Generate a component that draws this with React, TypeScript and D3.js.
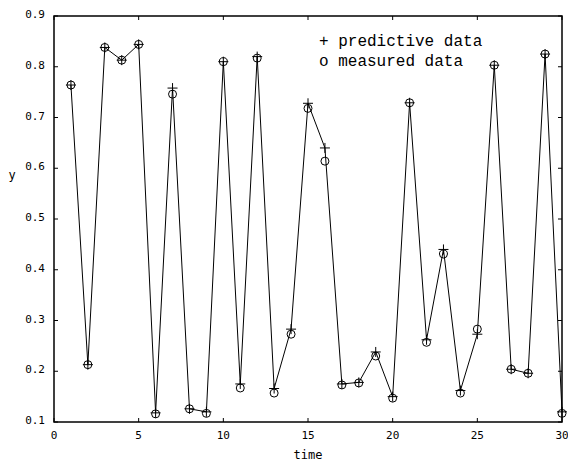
import * as d3 from "d3";

const time = d3.range(1, 31);
const measured = [
  0.764, 0.213, 0.838, 0.813, 0.844, 0.116, 0.746, 0.126, 0.117, 0.81,
  0.167, 0.817, 0.157, 0.273, 0.718, 0.614, 0.173, 0.177, 0.23, 0.147,
  0.729, 0.257, 0.431, 0.157, 0.283, 0.803, 0.204, 0.196, 0.825, 0.117,
];
const predicted = [
  0.764, 0.213, 0.838, 0.813, 0.844, 0.118, 0.758, 0.126, 0.12, 0.81,
  0.175, 0.82, 0.166, 0.283, 0.728, 0.64, 0.175, 0.178, 0.238, 0.15,
  0.729, 0.262, 0.44, 0.162, 0.273, 0.803, 0.204, 0.196, 0.825, 0.12,
];
const xTicks = [0, 5, 10, 15, 20, 25, 30];
const yTicks = [0.1, 0.2, 0.3, 0.4, 0.5, 0.6, 0.7, 0.8, 0.9];

const width = 568;
const height = 464;
const margin = { top: 16, right: 6, bottom: 42, left: 54 };

export default function App() {
  const x = d3.scaleLinear().domain([0, 30]).range([margin.left, width - margin.right]);
  const y = d3.scaleLinear().domain([0.1, 0.9]).range([height - margin.bottom, margin.top]);

  const line = d3
    .line<number>()
    .x((d, i) => x(time[i]))
    .y((d) => y(d));

  const tickFont = "'DejaVu Sans Mono', monospace";
  const legendFont = "'Liberation Mono', 'Courier New', monospace";
  const top = margin.top;
  const bottom = height - margin.bottom;
  const left = margin.left;
  const right = width - margin.right;

  return (
    <div style={{ position: "absolute", left: 0, top: 0 }}>
      <svg width={width} height={height} style={{ display: "block", background: "#fff" }}>
        <path d={line(predicted) ?? ""} fill="none" stroke="#000" strokeWidth={1} />

        {measured.map((v, i) => (
          <circle key={"o" + i} cx={x(time[i])} cy={y(v)} r={4} fill="none" stroke="#000" strokeWidth={1} />
        ))}
        {predicted.map((v, i) => (
          <path
            key={"p" + i}
            d={`M${x(time[i]) - 5},${y(v)}H${x(time[i]) + 5}M${x(time[i])},${y(v) - 5}V${y(v) + 5}`}
            stroke="#000"
            strokeWidth={1}
          />
        ))}

        <rect x={left} y={top} width={right - left} height={bottom - top} fill="none" stroke="#000" strokeWidth={1.5} />

        {xTicks.map((t) => (
          <g key={"x" + t}>
            <line x1={x(t)} x2={x(t)} y1={bottom} y2={bottom - 4} stroke="#000" />
            <line x1={x(t)} x2={x(t)} y1={top} y2={top + 4} stroke="#000" />
            <text x={x(t)} y={bottom + 17} textAnchor="middle" fontFamily={tickFont} fontSize={11}>
              {t}
            </text>
          </g>
        ))}
        {yTicks.map((t) => (
          <g key={"y" + t}>
            <line x1={left} x2={left + 4} y1={y(t)} y2={y(t)} stroke="#000" />
            <line x1={right} x2={right - 4} y1={y(t)} y2={y(t)} stroke="#000" />
            <text x={left - 9} y={y(t) - 1} textAnchor="end" dominantBaseline="middle" fontFamily={tickFont} fontSize={11}>
              {d3.format(".1f")(t)}
            </text>
          </g>
        ))}

        <text x={(left + right) / 2} y={459} textAnchor="middle" fontFamily={tickFont} fontSize={12}>
          time
        </text>
        <text x={12} y={179} textAnchor="middle" fontFamily={tickFont} fontSize={12}>
          y
        </text>

        <text x={319} y={46} fontFamily={legendFont} fontSize={16}>
          + predictive data
        </text>
        <text x={319} y={66} fontFamily={legendFont} fontSize={16}>
          o measured data
        </text>
      </svg>
    </div>
  );
}
